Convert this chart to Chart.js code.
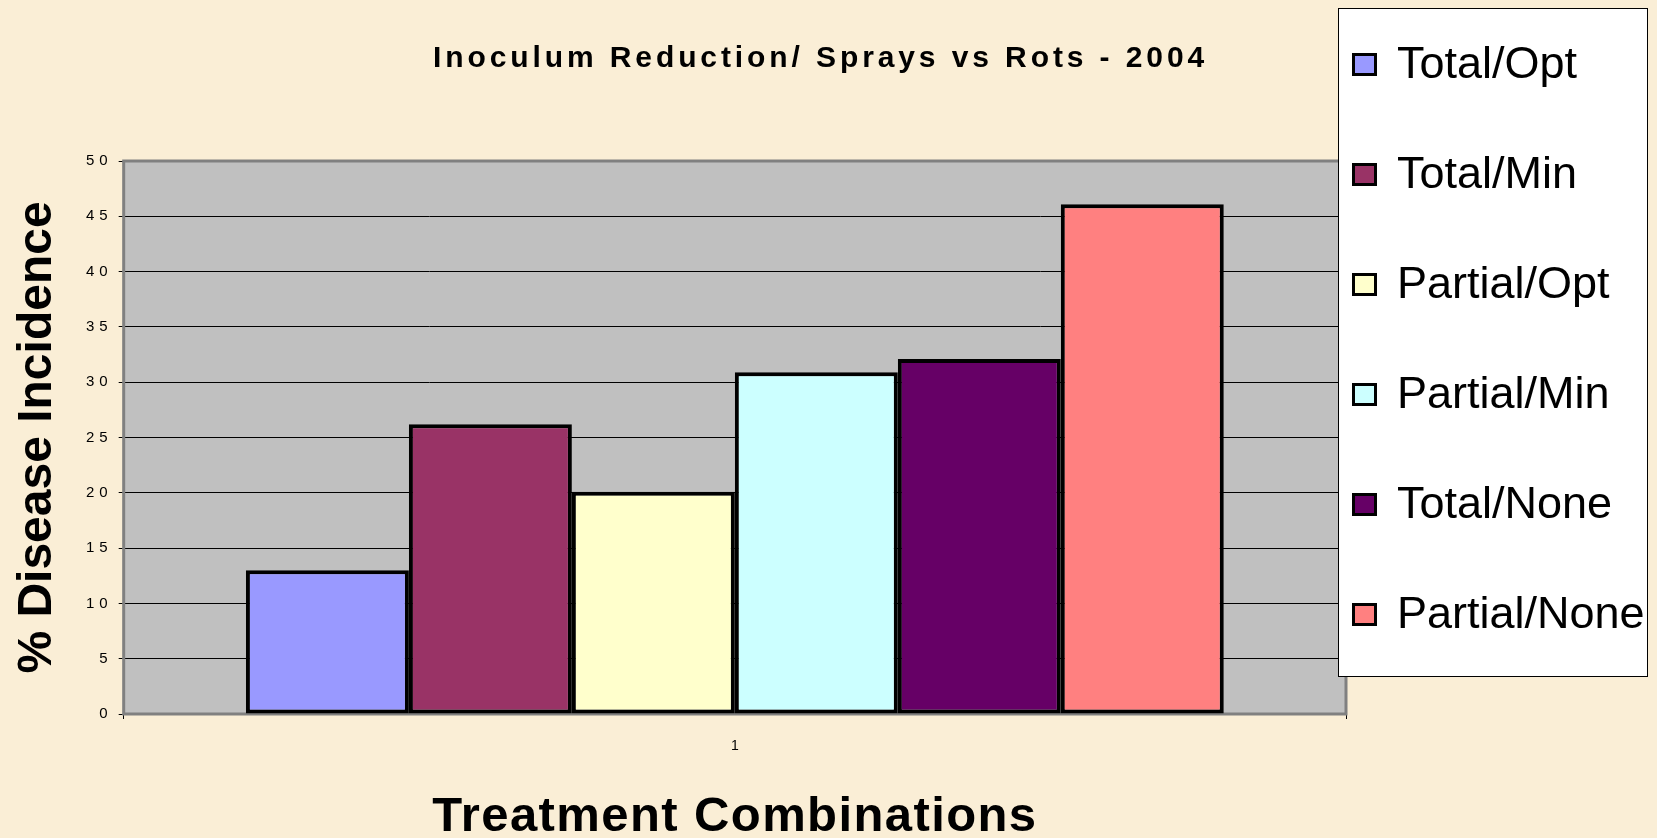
<html>
  <head>
    <title>Inoculum Reduction</title>
    <script src="https://cdn.jsdelivr.net/npm/chart.js@4.4.1/dist/chart.umd.min.js"></script>
    <style>
      body { margin: 0; background: #FAEED6; }
      #chart { display: block; }
    </style>
  </head>
  <body>
    <canvas id="chart" width="1657" height="838"></canvas>
  </body>
  <script>
    // chart data
    var categories = ['1'];
    var seriesNames = ['Total/Opt', 'Total/Min', 'Partial/Opt', 'Partial/Min', 'Total/None', 'Partial/None'];
    var seriesValues = [13.0, 26.2, 20.1, 30.9, 32.1, 46.1];
    var seriesColors = ['#9999FF', '#993366', '#FFFFCC', '#CCFFFF', '#660066', '#FF8080'];
    var yMin = 0, yMax = 50, yStep = 5;
    var chartTitle = 'Inoculum Reduction/ Sprays vs Rots - 2004';
    var xTitle = 'Treatment Combinations';
    var yTitle = '% Disease Incidence';

    var FONT = '"Liberation Sans", Arial, sans-serif';
    Chart.defaults.font.family = FONT;
    Chart.defaults.color = '#000';

    var datasets = [];
    for (var i = 0; i < seriesNames.length; i++) {
      datasets.push({
        label: seriesNames[i],
        data: [seriesValues[i]],
        backgroundColor: seriesColors[i],
        borderColor: '#000',
        borderWidth: 4,
        borderSkipped: false
      });
    }

    // wrap a scale draw method so its text gets extra letter spacing
    function spaced(scale, method, px) {
      var flag = '_sp_' + method;
      if (scale[flag]) return;
      var orig = scale[method];
      scale[method] = function(area) {
        this.ctx.save();
        this.ctx.letterSpacing = px;
        orig.call(this, area);
        this.ctx.restore();
      };
      scale[flag] = true;
    }

    // background, plot frame, title and legend box
    var decor = {
      id: 'decor',
      beforeDraw: function(chart) {
        var ctx = chart.ctx, a = chart.chartArea;
        ctx.save();
        ctx.fillStyle = '#FAEED6';
        ctx.fillRect(0, 0, chart.width, chart.height);
        ctx.fillStyle = '#C0C0C0';
        ctx.fillRect(a.left, a.top, a.right - a.left, a.bottom - a.top);
        ctx.restore();

        spaced(chart.scales.y, 'drawLabels', '5px');
        spaced(chart.scales.x, 'drawTitle', '1.4px');
      },
      beforeDatasetsDraw: function(chart) {
        var ctx = chart.ctx, a = chart.chartArea;
        ctx.save();
        ctx.strokeStyle = '#808080';
        ctx.lineWidth = 3;
        ctx.strokeRect(a.left, a.top, a.right - a.left, a.bottom - a.top);
        ctx.restore();
      },
      afterDraw: function(chart) {
        var ctx = chart.ctx;
        ctx.save();
        // title
        ctx.fillStyle = '#000';
        ctx.font = 'bold 30px ' + FONT;
        ctx.letterSpacing = '3.9px';
        ctx.textAlign = 'left';
        ctx.textBaseline = 'alphabetic';
        ctx.fillText(chartTitle, 433, 67);
        ctx.letterSpacing = '0px';

        // legend
        ctx.fillStyle = '#fff';
        ctx.fillRect(1338, 8, 309, 668);
        ctx.strokeStyle = '#000';
        ctx.lineWidth = 1;
        ctx.strokeRect(1338.5, 8.5, 309, 668);
        ctx.font = '45px ' + FONT;
        chart.data.datasets.forEach(function(ds, k) {
          var cy = 62 + k * 110;
          ctx.fillStyle = ds.backgroundColor;
          ctx.fillRect(1352, cy - 9, 25, 23);
          ctx.strokeStyle = '#000';
          ctx.lineWidth = 3;
          ctx.strokeRect(1353.5, cy - 7.5, 22, 20);
          ctx.fillStyle = '#000';
          ctx.fillText(ds.label, 1397, cy + 16);
        });
        ctx.restore();
      }
    };

    new Chart(document.getElementById('chart'), {
      type: 'bar',
      data: { labels: categories, datasets: datasets },
      plugins: [decor],
      options: {
        responsive: false,
        animation: false,
        layout: { padding: { top: 161, right: 311, bottom: -4, left: 0 } },
        categoryPercentage: 0.8,
        barPercentage: 1.0,
        plugins: {
          legend: { display: false },
          title: { display: false },
          tooltip: { enabled: false }
        },
        scales: {
          x: {
            grid: { display: true, drawOnChartArea: false, drawTicks: true, tickLength: 5, tickColor: '#000' },
            border: { display: false },
            ticks: { padding: 20, font: { size: 14, lineHeight: 1 }, color: '#000' },
            title: { display: true, text: xTitle, font: { size: 49, weight: 'bold', lineHeight: 1 }, color: '#000', padding: { top: 20, bottom: 0 } }
          },
          y: {
            min: yMin,
            max: yMax,
            grid: { color: '#000', lineWidth: 1, tickLength: 5, tickColor: '#000' },
            border: { display: false },
            ticks: { stepSize: yStep, padding: 6, font: { size: 15 }, color: '#000' },
            title: { display: true, text: yTitle, font: { size: 48, weight: 'bold', lineHeight: 1 }, color: '#000', padding: { top: 14, bottom: 28 } }
          }
        }
      }
    });
  </script>
</html>
